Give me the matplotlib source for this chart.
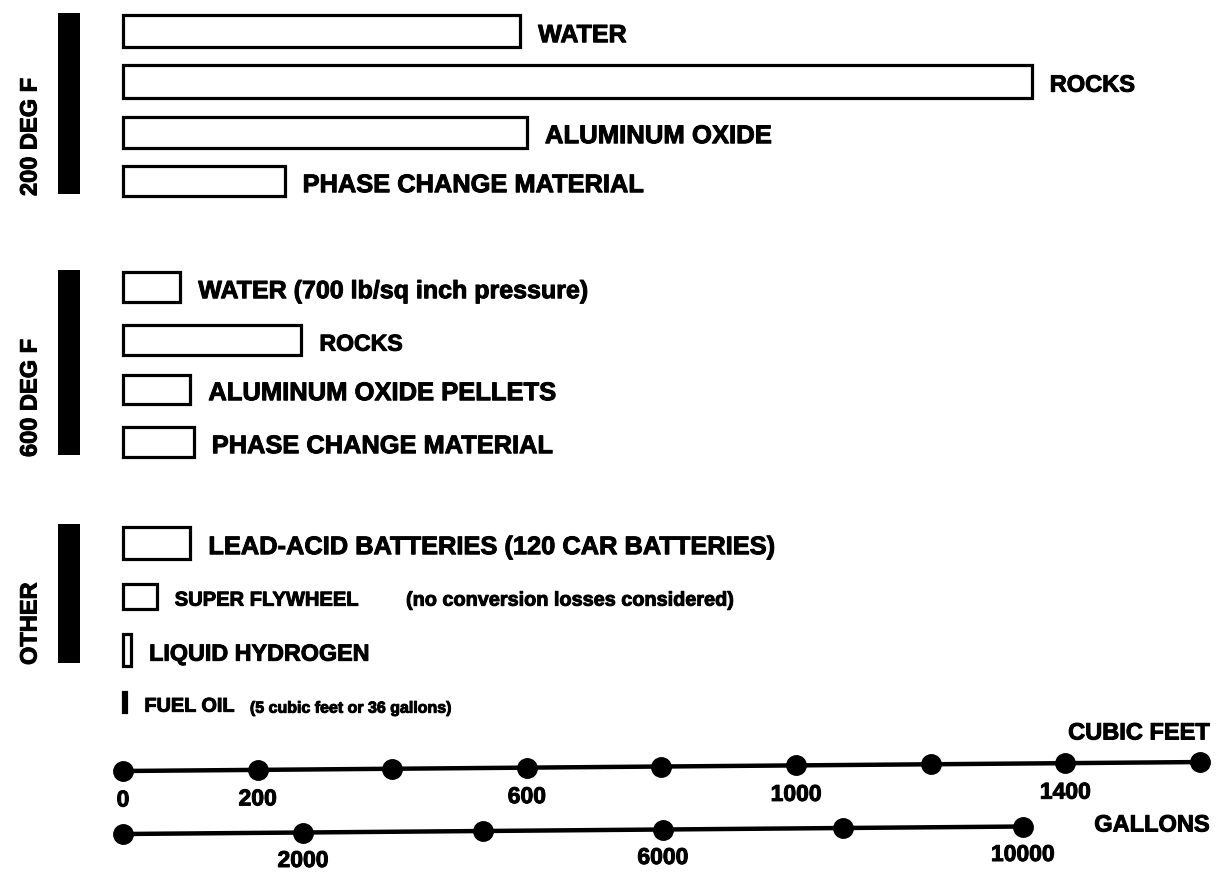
import matplotlib
matplotlib.use("Agg")
import matplotlib.pyplot as plt
import matplotlib.patheffects as pe
from matplotlib.patches import Rectangle

# Volume (cubic feet) needed to store the same amount of energy
groups = ["200 DEG F", "600 DEG F", "OTHER"]
labels_200 = ["WATER", "ROCKS", "ALUMINUM OXIDE", "PHASE CHANGE MATERIAL"]
volume_200 = [590, 1350, 600, 240]
labels_600 = ["WATER (700 lb/sq inch pressure)", "ROCKS",
              "ALUMINUM OXIDE PELLETS", "PHASE CHANGE MATERIAL"]
volume_600 = [85, 265, 100, 105]
labels_other = ["LEAD-ACID BATTERIES (120 CAR BATTERIES)", "SUPER FLYWHEEL",
                "LIQUID HYDROGEN", "FUEL OIL"]
notes_other = ["", "(no conversion losses considered)", "",
               "(5 cubic feet or 36 gallons)"]
volume_other = [100, 50, 12, 5]

cuft_ticks = [0, 200, 400, 600, 800, 1000, 1200, 1400, 1600]
cuft_labels = ["0", "200", "", "600", "", "1000", "", "1400", ""]
gallon_ticks = [0, 2000, 4000, 6000, 8000, 10000]
gallon_labels = ["", "2000", "", "6000", "", "10000"]
GAL_PER_CUFT = 7.4805

FONT = ["Liberation Sans", "DejaVu Sans"]
INK = [pe.withStroke(linewidth=0.7, foreground="black")]
PX_PER_CUFT = 0.6731
ORIGIN_PX = 123
TILT = -0.0056  # the scale lines rise slightly to the right


def px(x):
    """Horizontal pixel position -> cubic-feet data coordinate."""
    return (x - ORIGIN_PX) / PX_PER_CUFT


def bold(size):
    return dict(fontsize=size, fontweight="bold", family=FONT, path_effects=INK)


fig = plt.figure(figsize=(12.2, 8.76), dpi=100)
ax = fig.add_axes([0, 0, 1, 1])
ax.set_xlim(px(0), px(1220))
ax.set_ylim(876, 0)
ax.axis("off")

rows = [
    (labels_200, volume_200, [""] * 4, [31, 81, 132, 181], [32, 33, 31, 30], [18, 17, 18.5, 18.3]),
    (labels_600, volume_600, [""] * 4, [287, 340, 389, 442], [30, 30, 29, 30], [18, 16.6, 18.4, 18.3]),
    (labels_other, volume_other, notes_other, [543, 596, 650, 702], [32, 25, 32, 20], [18.3, 14.5, 16.8, 14.3]),
]
note_sizes = [0, 14.3, 0, 11.5]
note_gaps = [0, 34, 0, 11]
group_spans = [(13, 194), (270, 455), (524, 663)]

for (labels, values, notes, ys, heights, sizes), name, (top, bottom) in zip(rows, groups, group_spans):
    ax.add_patch(Rectangle((px(58), top), px(80) - px(58), bottom - top,
                           facecolor="black", edgecolor="none"))
    ax.text(px(30), bottom + 2, name, rotation=90, ha="center", va="bottom", **bold(17))
    ax.barh(ys, values, height=heights, left=0, facecolor="white",
            edgecolor="black", linewidth=2.3)
    for i, (label, note, value, y, size) in enumerate(zip(labels, notes, values, ys, sizes)):
        t = ax.annotate(label, (value, y), xytext=(13, -3), textcoords="offset points",
                        ha="left", va="center", **bold(size))
        if note:
            ax.annotate(note, xy=(1, 0), xycoords=t, xytext=(note_gaps[i], 0),
                        textcoords="offset points", ha="left", va="bottom",
                        **bold(note_sizes[i]))

# cubic-feet scale
base_cuft = 771
cuft_y = [base_cuft + TILT * v for v in cuft_ticks]
ax.plot(cuft_ticks, cuft_y, color="black", lw=3.2)
ax.plot(cuft_ticks, cuft_y, "o", color="black", ms=14)
for v, y, lab in zip(cuft_ticks, cuft_y, cuft_labels):
    if lab:
        ax.text(v, y + 29, lab, ha="center", va="center", **bold(16.5))
ax.text(px(1210), 733, "CUBIC FEET", ha="right", va="center", **bold(17))

# gallons scale, drawn on the same cubic-feet axis
base_gal = 834
gal_x = [g / GAL_PER_CUFT for g in gallon_ticks]
gal_y = [base_gal + TILT * v for v in gal_x]
ax.plot(gal_x, gal_y, color="black", lw=3.2)
ax.plot(gal_x, gal_y, "o", color="black", ms=14)
for v, y, lab in zip(gal_x, gal_y, gallon_labels):
    if lab:
        ax.text(v, y + 28, lab, ha="center", va="center", **bold(16.5))
ax.text(px(1210), 825, "GALLONS", ha="right", va="center", **bold(17))

fig.savefig("out.png", dpi=100, facecolor="white")
